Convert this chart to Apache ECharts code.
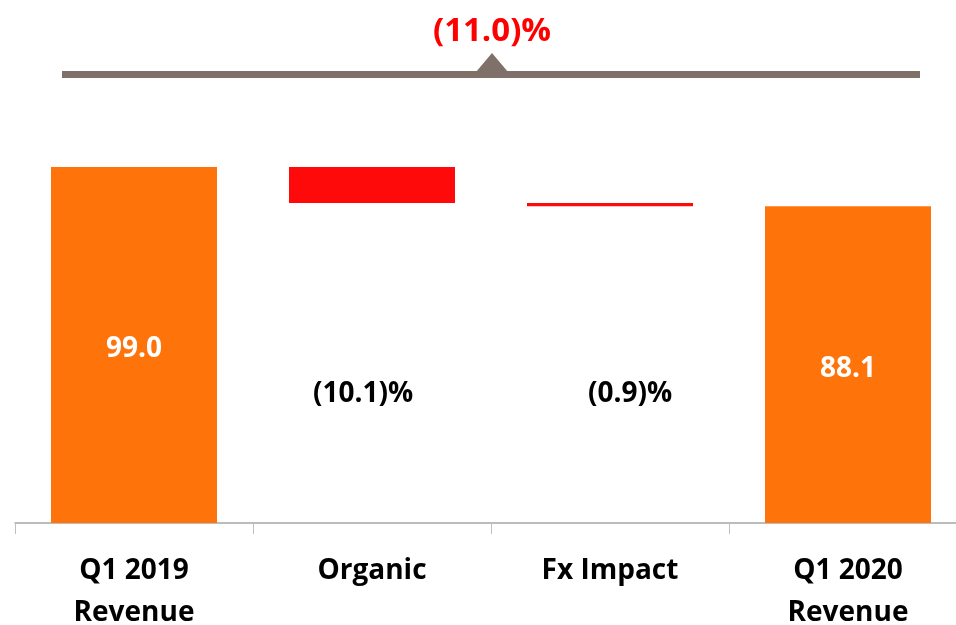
<!DOCTYPE html>
<html>
<head>
<meta charset="utf-8">
<script src="https://cdn.jsdelivr.net/npm/echarts@6/dist/echarts.min.js"></script>
<style>html,body{margin:0;padding:0;background:#fff}#c{width:956px;height:625px}</style>
</head>
<body>
<div id="c"></div>
<script>
// Data
const categories = ['Q1 2019\nRevenue', 'Organic', 'Fx Impact', 'Q1 2020\nRevenue'];
const startRevenue = 99.0;
const organicChange = -10.0;
const fxChange = -0.9;
const endRevenue = 88.1;
const changeLabels = ['(10.1)%', '(0.9)%'];
const totalChangeLabel = '(11.0)%';

// Build waterfall
const afterOrganic = startRevenue + organicChange;
const afterFx = afterOrganic + fxChange;
const baseData = ['-', afterOrganic, afterFx, '-'];
const totalData = [startRevenue, '-', '-', endRevenue];
const deltaData = ['-', -organicChange, -fxChange, '-'];

const ORANGE = '#FF730B';
const RED = '#FF0A0A';
const FONT = '"Open Sans", "Liberation Sans", sans-serif';

const chart = echarts.init(document.getElementById('c'));
chart.setOption({
  animation: false,
  backgroundColor: '#ffffff',
  grid: { left: 15, width: 952, top: 163.4, bottom: 102, containLabel: false, outerBoundsMode: 'none' },
  xAxis: {
    type: 'category',
    data: categories,
    axisLine: { lineStyle: { color: '#A6A6A6', width: 1.5 } },
    axisTick: { show: true, length: 11, lineStyle: { color: '#BFBFBF' } },
    axisLabel: {
      color: '#000', fontFamily: FONT, fontWeight: 'bold', fontSize: 28,
      lineHeight: 42, margin: 27
    }
  },
  yAxis: { type: 'value', min: 0, max: 100, show: false, splitLine: { show: false } },
  series: [
    {
      type: 'bar', stack: 'w', barWidth: 166,
      data: baseData,
      itemStyle: { color: 'transparent' },
      label: {
        show: true, position: 'inside', color: '#000', fontFamily: FONT,
        fontWeight: 'bold', fontSize: 28,
        formatter: p => p.dataIndex === 1 ? changeLabels[0] : changeLabels[1]
      },
      labelLayout: p => ({ dx: p.dataIndex === 1 ? -9 : 20, dy: p.dataIndex === 1 ? 31 : 29 })
    },
    {
      type: 'bar', stack: 'w', barWidth: 166,
      data: deltaData,
      itemStyle: { color: RED }
    },
    {
      type: 'bar', stack: 'w', barWidth: 166,
      data: totalData,
      itemStyle: { color: ORANGE },
      label: {
        show: true, position: 'inside', color: '#fff', fontFamily: FONT,
        fontWeight: 'bold', fontSize: 28, offset: [0, 4],
        formatter: p => p.value.toFixed(1)
      }
    }
  ],
  graphic: [
    { type: 'rect', shape: { x: 62, y: 71, width: 858, height: 7 }, style: { fill: '#7F7069' } },
    { type: 'polygon', shape: { points: [[476, 72], [492, 53], [508, 72]] }, style: { fill: '#7F7069' } },
    {
      type: 'text', x: 492, y: 32,
      style: {
        text: totalChangeLabel, fill: '#FF0000', font: 'bold 33px ' + FONT,
        align: 'center', verticalAlign: 'middle'
      }
    }
  ]
});
</script>
</body>
</html>
